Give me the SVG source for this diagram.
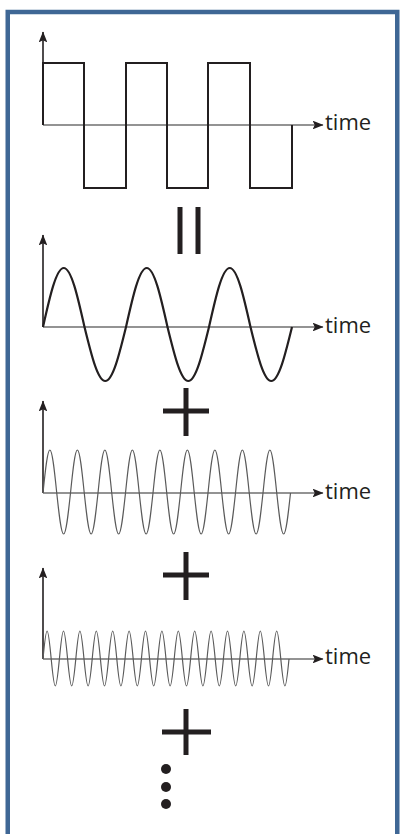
<svg xmlns="http://www.w3.org/2000/svg" width="400" height="834" viewBox="0 0 400 834">
<defs>
<style>
.frame{fill:#fff;stroke:#3f6795;stroke-width:4.5}
.yax{stroke:#231f20;stroke-width:1.6;fill:none}
.xax{stroke:#6f6f6f;stroke-width:1.6;fill:none}
.sq{stroke:#231f20;stroke-width:2;fill:none;stroke-linejoin:miter}
.s1{stroke:#231f20;stroke-width:2.2;fill:none}
.s2{stroke:#5a5a5a;stroke-width:1.2;fill:none}
.op{stroke:#231f20;stroke-width:5;fill:none}
.lbl{font-family:"Open Sans","Liberation Sans",sans-serif;font-size:22px;fill:#231f20}
</style>
<marker id="ah" viewBox="0 0 10 8" refX="9.5" refY="4" markerWidth="11" markerHeight="8.8" markerUnits="userSpaceOnUse" orient="auto">
<path d="M0,0 L10,4 L0,8 L2,4 Z" fill="#231f20"/>
</marker>
</defs>
<rect class="frame" x="7.75" y="12" width="389.5" height="830"/>

<g id="square-wave">
<line class="yax" x1="43" y1="125" x2="43" y2="32" marker-end="url(#ah)"/>
<line class="xax" x1="43" y1="125" x2="323" y2="125" marker-end="url(#ah)"/>
<path class="sq" d="M43,125 V63 H84 V188 H126 V63 H167 V188 H208 V63 H250 V188 H292 V125"/>
<text class="lbl" x="325" y="129.5">time</text>
</g>

<g id="equals">
<line class="op" x1="180" y1="207" x2="180" y2="254"/>
<line class="op" x1="198" y1="207" x2="198" y2="254"/>
</g>

<g id="sine-fundamental">
<line class="yax" x1="43" y1="327" x2="43" y2="235" marker-end="url(#ah)"/>
<line class="xax" x1="43" y1="327" x2="323" y2="327" marker-end="url(#ah)"/>
<path class="s1" d="M43,327
c6.77,-30.23 13.24,-59 20.75,-59 c7.51,0 13.98,28.77 20.75,59 c6.77,27.66 13.24,54 20.75,54 c7.51,0 13.98,-26.34 20.75,-54
c6.77,-30.23 13.24,-59 20.75,-59 c7.51,0 13.98,28.77 20.75,59 c6.77,27.66 13.24,54 20.75,54 c7.51,0 13.98,-26.34 20.75,-54
c6.77,-30.23 13.24,-59 20.75,-59 c7.51,0 13.98,28.77 20.75,59 c6.77,27.66 13.24,54 20.75,54 c7.51,0 13.98,-26.34 20.75,-54"/>
<text class="lbl" x="325" y="332.5">time</text>
</g>

<g id="plus-1">
<line class="op" x1="163" y1="411" x2="209" y2="411"/>
<line class="op" x1="186" y1="388" x2="186" y2="436"/>
</g>

<g id="sine-third">
<line class="yax" x1="43" y1="493" x2="43" y2="401" marker-end="url(#ah)"/>
<line class="xax" x1="43" y1="493" x2="323" y2="493" marker-end="url(#ah)"/>
<path class="s2" d="M43,493
c2.24,-22.03 4.39,-43 6.875,-43 c2.49,0 4.63,20.97 6.875,43 c2.24,21 4.39,41 6.875,41 c2.49,0 4.63,-20 6.875,-41
c2.24,-22.03 4.39,-43 6.875,-43 c2.49,0 4.63,20.97 6.875,43 c2.24,21 4.39,41 6.875,41 c2.49,0 4.63,-20 6.875,-41
c2.24,-22.03 4.39,-43 6.875,-43 c2.49,0 4.63,20.97 6.875,43 c2.24,21 4.39,41 6.875,41 c2.49,0 4.63,-20 6.875,-41
c2.24,-22.03 4.39,-43 6.875,-43 c2.49,0 4.63,20.97 6.875,43 c2.24,21 4.39,41 6.875,41 c2.49,0 4.63,-20 6.875,-41
c2.24,-22.03 4.39,-43 6.875,-43 c2.49,0 4.63,20.97 6.875,43 c2.24,21 4.39,41 6.875,41 c2.49,0 4.63,-20 6.875,-41
c2.24,-22.03 4.39,-43 6.875,-43 c2.49,0 4.63,20.97 6.875,43 c2.24,21 4.39,41 6.875,41 c2.49,0 4.63,-20 6.875,-41
c2.24,-22.03 4.39,-43 6.875,-43 c2.49,0 4.63,20.97 6.875,43 c2.24,21 4.39,41 6.875,41 c2.49,0 4.63,-20 6.875,-41
c2.24,-22.03 4.39,-43 6.875,-43 c2.49,0 4.63,20.97 6.875,43 c2.24,21 4.39,41 6.875,41 c2.49,0 4.63,-20 6.875,-41
c2.24,-22.03 4.39,-43 6.875,-43 c2.49,0 4.63,20.97 6.875,43 c2.24,21 4.39,41 6.875,41 c2.49,0 4.63,-20 6.875,-41"/>
<text class="lbl" x="325" y="498.5">time</text>
</g>

<g id="plus-2">
<line class="op" x1="163" y1="575" x2="209" y2="575"/>
<line class="op" x1="186" y1="552" x2="186" y2="600"/>
</g>

<g id="sine-fifth">
<line class="yax" x1="43" y1="659" x2="43" y2="568" marker-end="url(#ah)"/>
<line class="xax" x1="43" y1="659" x2="323" y2="659" marker-end="url(#ah)"/>
<path class="s2" d="M43,659
c1.34,-14.34 2.62,-28 4.1,-28 c1.48,0 2.76,13.66 4.1,28 c1.34,13.83 2.62,27 4.1,27 c1.48,0 2.76,-13.17 4.1,-27
c1.34,-14.34 2.62,-28 4.1,-28 c1.48,0 2.76,13.66 4.1,28 c1.34,13.83 2.62,27 4.1,27 c1.48,0 2.76,-13.17 4.1,-27
c1.34,-14.34 2.62,-28 4.1,-28 c1.48,0 2.76,13.66 4.1,28 c1.34,13.83 2.62,27 4.1,27 c1.48,0 2.76,-13.17 4.1,-27
c1.34,-14.34 2.62,-28 4.1,-28 c1.48,0 2.76,13.66 4.1,28 c1.34,13.83 2.62,27 4.1,27 c1.48,0 2.76,-13.17 4.1,-27
c1.34,-14.34 2.62,-28 4.1,-28 c1.48,0 2.76,13.66 4.1,28 c1.34,13.83 2.62,27 4.1,27 c1.48,0 2.76,-13.17 4.1,-27
c1.34,-14.34 2.62,-28 4.1,-28 c1.48,0 2.76,13.66 4.1,28 c1.34,13.83 2.62,27 4.1,27 c1.48,0 2.76,-13.17 4.1,-27
c1.34,-14.34 2.62,-28 4.1,-28 c1.48,0 2.76,13.66 4.1,28 c1.34,13.83 2.62,27 4.1,27 c1.48,0 2.76,-13.17 4.1,-27
c1.34,-14.34 2.62,-28 4.1,-28 c1.48,0 2.76,13.66 4.1,28 c1.34,13.83 2.62,27 4.1,27 c1.48,0 2.76,-13.17 4.1,-27
c1.34,-14.34 2.62,-28 4.1,-28 c1.48,0 2.76,13.66 4.1,28 c1.34,13.83 2.62,27 4.1,27 c1.48,0 2.76,-13.17 4.1,-27
c1.34,-14.34 2.62,-28 4.1,-28 c1.48,0 2.76,13.66 4.1,28 c1.34,13.83 2.62,27 4.1,27 c1.48,0 2.76,-13.17 4.1,-27
c1.34,-14.34 2.62,-28 4.1,-28 c1.48,0 2.76,13.66 4.1,28 c1.34,13.83 2.62,27 4.1,27 c1.48,0 2.76,-13.17 4.1,-27
c1.34,-14.34 2.62,-28 4.1,-28 c1.48,0 2.76,13.66 4.1,28 c1.34,13.83 2.62,27 4.1,27 c1.48,0 2.76,-13.17 4.1,-27
c1.34,-14.34 2.62,-28 4.1,-28 c1.48,0 2.76,13.66 4.1,28 c1.34,13.83 2.62,27 4.1,27 c1.48,0 2.76,-13.17 4.1,-27
c1.34,-14.34 2.62,-28 4.1,-28 c1.48,0 2.76,13.66 4.1,28 c1.34,13.83 2.62,27 4.1,27 c1.48,0 2.76,-13.17 4.1,-27
c1.34,-14.34 2.62,-28 4.1,-28 c1.48,0 2.76,13.66 4.1,28 c1.34,13.83 2.62,27 4.1,27 c1.48,0 2.76,-13.17 4.1,-27"/>
<text class="lbl" x="325" y="664">time</text>
</g>

<g id="plus-3">
<line class="op" x1="162" y1="732" x2="211" y2="732"/>
<line class="op" x1="186" y1="709" x2="186" y2="755"/>
</g>

<g id="ellipsis" fill="#231f20">
<circle cx="166" cy="769" r="5"/>
<circle cx="166" cy="787" r="5"/>
<circle cx="166" cy="804" r="5"/>
</g>

<g id="connectors"></g>
</svg>
